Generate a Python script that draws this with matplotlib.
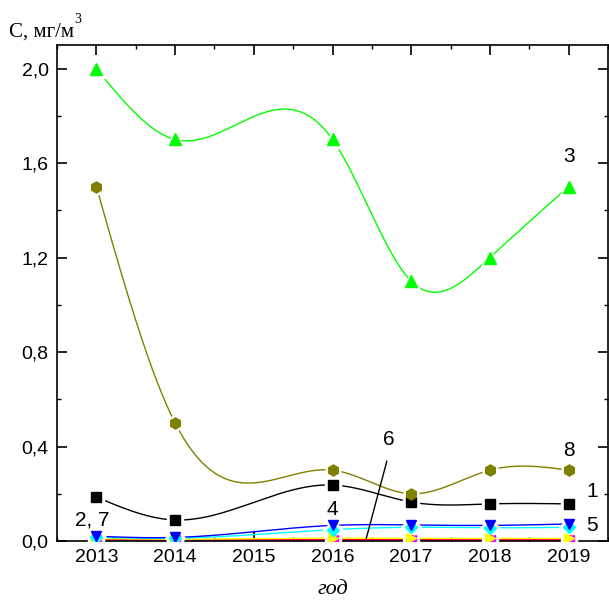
import numpy as np
import matplotlib
matplotlib.use("Agg")
import matplotlib.pyplot as plt
from matplotlib.ticker import MultipleLocator, FuncFormatter

years = [2013, 2014, 2016, 2017, 2018, 2019]

s1 = [0.186, 0.089, 0.237, 0.165, 0.157, 0.157]   # black squares
s2 = [0.006, 0.005, 0.006, 0.006, 0.006, 0.006]   # red circles
s3 = [2.0, 1.7, 1.7, 1.1, 1.2, 1.5]                # green triangles
s4 = [0.020, 0.015, 0.066, 0.068, 0.066, 0.072]   # blue down triangles
s5 = [0.016, 0.012, 0.048, 0.058, 0.056, 0.058]   # cyan diamonds
s6 = [0.003, 0.003, 0.003, 0.003, 0.003, 0.003]   # magenta left triangles
s7 = [0.010, 0.008, 0.012, 0.011, 0.011, 0.011]   # yellow right triangles
s8 = [1.5, 0.5, 0.3, 0.2, 0.3, 0.3]                # olive hexagons

x_ticks = [2013, 2014, 2015, 2016, 2017, 2018, 2019]

series = [
    ("1", s1, "#000000", "s", 7),
    ("2", s2, "#ff0000", "o", 7),
    ("3", s3, "#00ff00", "^", 9),
    ("8", s8, "#808000", "h", 8),
    ("6", s6, "#ff00ff", "<", 7),
    ("7", s7, "#ffff00", ">", 7),
    ("5", s5, "#00ffff", "D", 6),
    ("4", s4, "#0000ff", "v", 7),
]


def natural_spline(x, y, n=400):
    x = np.asarray(x, float)
    y = np.asarray(y, float)
    k = len(x)
    h = np.diff(x)
    A = np.zeros((k, k))
    r = np.zeros(k)
    A[0, 0] = A[-1, -1] = 1.0
    for i in range(1, k - 1):
        A[i, i - 1] = h[i - 1]
        A[i, i] = 2 * (h[i - 1] + h[i])
        A[i, i + 1] = h[i]
        r[i] = 6 * ((y[i + 1] - y[i]) / h[i] - (y[i] - y[i - 1]) / h[i - 1])
    m = np.linalg.solve(A, r)
    xs = np.linspace(x[0], x[-1], n)
    idx = np.clip(np.searchsorted(x, xs) - 1, 0, k - 2)
    x0, x1 = x[idx], x[idx + 1]
    hh = x1 - x0
    a = (x1 - xs) / hh
    b = (xs - x0) / hh
    ys = (a * y[idx] + b * y[idx + 1]
          + ((a ** 3 - a) * m[idx] + (b ** 3 - b) * m[idx + 1]) * hh ** 2 / 6)
    return xs, ys


fig = plt.figure(figsize=(6.09, 6.04), dpi=100)
ax = fig.add_axes([57 / 609, 1 - 541 / 604, 551 / 609, (541 - 45) / 604])

for name, vals, color, marker, ms in series:
    xs, ys = natural_spline(years, vals)
    ax.plot(xs, ys, color=color, lw=1.0, zorder=2)
for name, vals, color, marker, ms in series:
    ax.plot(years, vals, ls="none", marker=marker, ms=ms + 4, color="white",
            mec="white", zorder=3)
for name, vals, color, marker, ms in series:
    ax.plot(years, vals, ls="none", marker=marker, ms=ms, color=color,
            mec=color, zorder=4)

ax.set_xlim(2012.5, 2019.5)
ax.set_ylim(0, 2.1)
ax.set_xticks(x_ticks)
ax.set_xticklabels([str(t) for t in x_ticks])
ax.xaxis.set_minor_locator(MultipleLocator(0.5))
ax.yaxis.set_major_locator(MultipleLocator(0.4))
ax.yaxis.set_minor_locator(MultipleLocator(0.2))
ax.yaxis.set_major_formatter(FuncFormatter(lambda v, p: f"{v:.1f}".replace(".", ",")))

for sp in ax.spines.values():
    sp.set_linewidth(1.2)
ax.tick_params(which="major", direction="in", length=7, width=1.2,
               top=True, right=True, labelsize=14, pad=6)
ax.tick_params(which="minor", direction="in", length=3, width=1.0,
               top=True, right=True)
for lab in ax.get_xticklabels() + ax.get_yticklabels():
    lab.set_family("Liberation Sans")

fig.text(9 / 609, 1 - 37 / 604, "С, мг/м", family="Liberation Serif",
         fontsize=15, ha="left", va="baseline")
fig.text(74 / 609, 1 - 23 / 604, "3", family="Liberation Serif",
         fontsize=10, ha="left", va="baseline")
fig.text(333 / 609, 1 - 590 / 604, "год", family="Liberation Serif",
         style="italic", fontsize=16, ha="center", va="center")

lab_kw = dict(family="Liberation Sans", fontsize=15, ha="center", va="center")
ax.text(2019, 1.63, "3", **lab_kw)
ax.text(2019, 0.385, "8", **lab_kw)
ax.text(2019.3, 0.21, "1", **lab_kw)
ax.text(2019.3, 0.065, "5", **lab_kw)
ax.text(2016.0, 0.135, "4", **lab_kw)
ax.text(2012.95, 0.09, "2, 7", **lab_kw)
ax.text(2016.71, 0.43, "6", **lab_kw)
ax.annotate("", xy=(2016.42, 0.0), xytext=(2016.70, 0.35),
            arrowprops=dict(arrowstyle="-", color="black", lw=1.0))

fig.savefig("out.png", dpi=100)
